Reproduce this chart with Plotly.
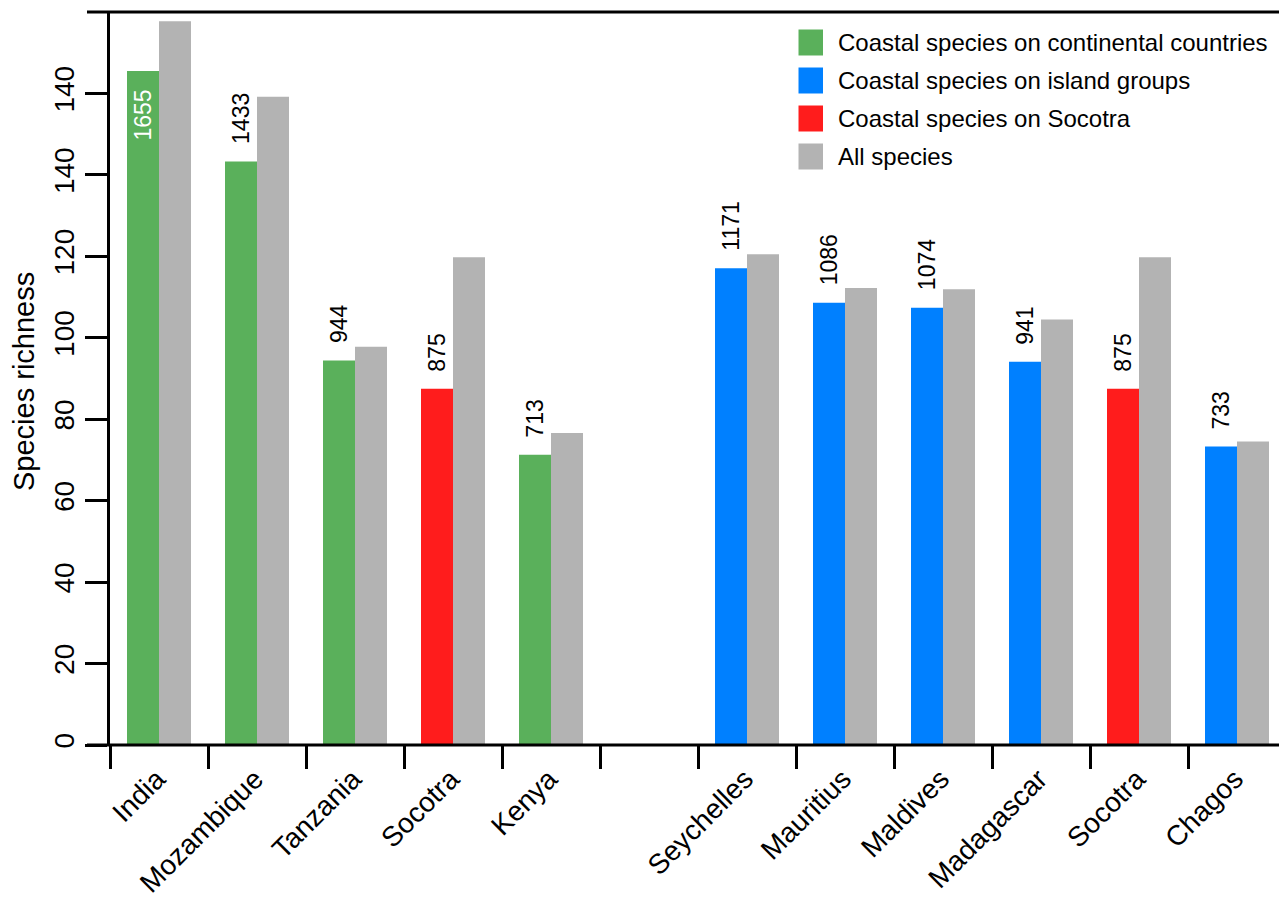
import plotly.graph_objects as go

# Countries and island groups (Socotra appears in both panels)
continental = ["India", "Mozambique", "Tanzania", "Socotra", "Kenya"]
islands = ["Seychelles", "Mauritius", "Maldives", "Madagascar", "Socotra", "Chagos"]

# Species richness: coastal species and all species
coastal_continental = [165.5, 143.3, 94.4, 87.5, 71.3]
coastal_islands = [117.1, 108.6, 107.4, 94.1, 87.5, 73.3]
all_continental = [177.7, 159.2, 97.8, 119.8, 76.6]
all_islands = [120.5, 112.2, 111.9, 104.5, 119.8, 74.5]

# y-axis ticks as printed on the axis
y_tick_values = [0, 20, 40, 60, 80, 100, 120, 140, 160]
y_tick_labels = ["0", "20", "40", "60", "80", "100", "120", "140", "140"]

legend_labels = [
    "Coastal species on continental countries",
    "Coastal species on island groups",
    "Coastal species on Socotra",
    "All species",
]

GREEN = "#5AB05B"
BLUE = "#0080FF"
RED = "#FF1C1C"
GREY = "#B3B3B3"
FONT = "Liberation Sans, Arial, Helvetica, sans-serif"

W_PX, H_PX = 1279, 900
M_L, M_R, M_T, M_B = 110, 0, 12, 155
PLOT_W = W_PX - M_L - M_R
PLOT_H = H_PX - M_T - M_B

# slot positions: continental group, one empty slot, then island groups
cont_x = list(range(len(continental)))
isl_x = [len(continental) + 1 + i for i in range(len(islands))]
n_slots = len(continental) + 1 + len(islands)

names = continental + islands
xs = cont_x + isl_x
coastal = coastal_continental + coastal_islands
allsp = all_continental + all_islands
groups = ["cont"] * len(continental) + ["isl"] * len(islands)

BAR_W = 32 / 98  # width of each bar relative to a slot


def pick(cond):
    sel = [i for i in range(len(names)) if cond(i)]
    return [xs[i] for i in sel], [coastal[i] for i in sel]


gx, gy = pick(lambda i: groups[i] == "cont" and names[i] != "Socotra")
bx, by = pick(lambda i: groups[i] == "isl" and names[i] != "Socotra")
rx, ry = pick(lambda i: names[i] == "Socotra")

fig = go.Figure()
for x, y, col, nm in [(gx, gy, GREEN, legend_labels[0]),
                      (bx, by, BLUE, legend_labels[1]),
                      (rx, ry, RED, legend_labels[2])]:
    fig.add_trace(go.Bar(x=x, y=y, width=BAR_W, offset=-BAR_W, name=nm,
                         marker=dict(color=col, line=dict(width=0)),
                         showlegend=False, hoverinfo="x+y"))
fig.add_trace(go.Bar(x=xs, y=allsp, width=BAR_W, offset=0, name=legend_labels[3],
                     marker=dict(color=GREY, line=dict(width=0)),
                     showlegend=False, hoverinfo="x+y"))

annotations = []
# value labels above (or inside) the coastal bars
for x, v in zip(xs, coastal):
    txt = str(int(round(v * 10)))
    inside = v > 150
    annotations.append(dict(
        x=x - BAR_W / 2, y=v, xref="x", yref="y", text=txt, showarrow=False,
        textangle=-90, xanchor="center",
        yanchor="top" if inside else "bottom",
        yshift=-17 if inside else 15,
        font=dict(family=FONT, size=23, color="white" if inside else "black"),
    ))


def px_x(p):
    return (p - M_L) / PLOT_W


def px_y(p):
    return (H_PX - M_B - p) / PLOT_H


# axis title
annotations.append(dict(
    x=px_x(24), y=px_y(382), xref="paper", yref="paper", text="Species richness",
    showarrow=False, textangle=-90, xanchor="center", yanchor="middle",
    font=dict(family=FONT, size=29, color="black"),
))

# legend
shapes = []
legend_colors = [GREEN, BLUE, RED, GREY]
for k, (lab, col) in enumerate(zip(legend_labels, legend_colors)):
    top = 29.5 + 38 * k
    bot = top + 26
    shapes.append(dict(type="rect", xref="paper", yref="paper",
                       x0=px_x(798.5), x1=px_x(823), y0=px_y(bot), y1=px_y(top),
                       fillcolor=col, line=dict(width=0)))
    annotations.append(dict(
        x=px_x(836), y=px_y((top + bot) / 2), xref="paper", yref="paper",
        text=lab, showarrow=False, xanchor="left", yanchor="middle",
        font=dict(family=FONT, size=24, color="black"),
    ))

# top and bottom frame lines, extending to the left under the ticks
for yy in (0, 1):
    shapes.append(dict(type="line", xref="paper", yref="paper",
                       x0=px_x(87), x1=1, y0=yy, y1=yy,
                       line=dict(color="black", width=3)))

label_pos = xs
boundaries = [i - 0.5 for i in range(n_slots)]

fig.update_layout(
    template="none",
    width=W_PX, height=H_PX,
    margin=dict(l=M_L, r=M_R, t=M_T, b=M_B, pad=0),
    paper_bgcolor="white", plot_bgcolor="white",
    barmode="overlay",
    showlegend=False,
    font=dict(family=FONT, color="black"),
    xaxis=dict(
        range=[-0.5, (W_PX - M_R - M_L) / 98 - 0.5],
        tickmode="array", tickvals=label_pos, ticktext=names,
        tickangle=-45, ticks="", showgrid=False, zeroline=False, showline=False,
        tickfont=dict(family=FONT, size=28, color="black"),
        ticklabelstandoff=11, ticklabelshift=-2,
        minor=dict(tickmode="array", tickvals=boundaries, ticks="outside",
                   ticklen=23, tickwidth=3, tickcolor="black", showgrid=False),
        automargin=False, fixedrange=True,
    ),
    yaxis=dict(
        range=[0, 180],
        tickmode="array", tickvals=y_tick_values, ticktext=y_tick_labels,
        tickangle=-90, ticks="outside", ticklen=22, tickwidth=3, tickcolor="black",
        showline=True, linewidth=3, linecolor="black",
        showgrid=False, zeroline=False,
        tickfont=dict(family=FONT, size=28, color="black"),
        automargin=False, fixedrange=True,
    ),
    annotations=annotations,
    shapes=shapes,
)

fig.write_html("out.html")
